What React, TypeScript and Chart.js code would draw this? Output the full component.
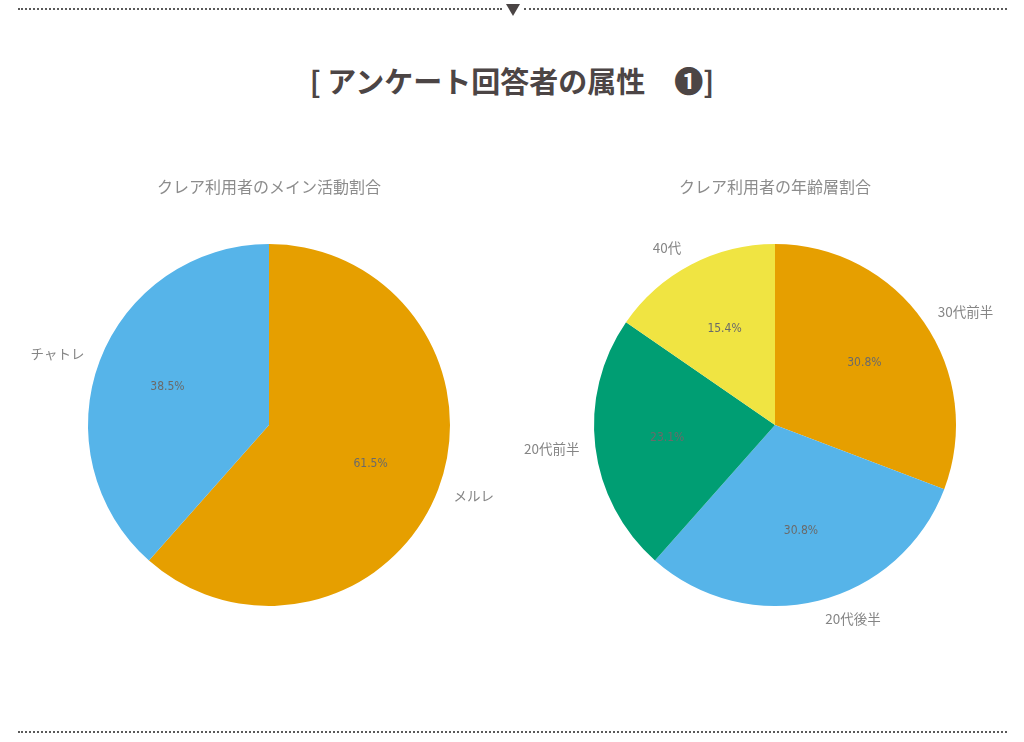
import React, { useEffect, useRef } from 'react';
import { Chart, registerables, Plugin } from 'chart.js';

Chart.register(...registerables);

// left pie: main activity
const activityLabels = ['メルレ', 'チャトレ'];
const activityValues = [8, 5];
const activityColors = ['#E69F00', '#56B4E9'];

// right pie: age groups
const ageLabels = ['30代前半', '20代後半', '20代前半', '40代'];
const ageValues = [4, 4, 3, 2];
const ageColors = ['#E69F00', '#56B4E9', '#009E73', '#F0E442'];

const JP_FONT = '"Noto Sans CJK JP", "Noto Sans", sans-serif';

// draws the percentage inside each slice and the category name outside it
const sliceLabels: Plugin<'pie'> = {
	id: 'sliceLabels',
	afterDatasetsDraw(chart) {
		const ctx = chart.ctx;
		const meta = chart.getDatasetMeta(0);
		const values = chart.data.datasets[0].data as number[];
		const total = values.reduce((a, b) => a + b, 0);
		const labels = chart.data.labels as string[];

		meta.data.forEach((arc, i) => {
			const { x, y, startAngle, endAngle, outerRadius } = arc.getProps(
				['x', 'y', 'startAngle', 'endAngle', 'outerRadius'], true
			) as any;
			const mid = (startAngle + endAngle) / 2;
			const cos = Math.cos(mid);
			const sin = Math.sin(mid);

			ctx.save();
			ctx.font = '12px "Liberation Sans Narrow", "DejaVu Sans Condensed", sans-serif';
			ctx.fillStyle = '#6a6a6a';
			ctx.textAlign = 'center';
			ctx.textBaseline = 'middle';
			const pct = ((values[i] / total) * 100).toFixed(1) + '%';
			ctx.fillText(pct, x + cos * outerRadius * 0.6, y + sin * outerRadius * 0.6);

			ctx.font = `13.5px ${JP_FONT}`;
			ctx.fillStyle = '#858585';
			const r = outerRadius + 12;
			const ax = x + cos * r;
			const ay = y + sin * r;
			ctx.textAlign = cos >= 0 ? 'left' : 'right';
			ctx.fillText(labels[i], ax + (cos >= 0 ? 4 : -4), ay + sin * 7);
			ctx.restore();
		});
	},
};

type PieProps = {
	title: string;
	labels: string[];
	values: number[];
	colors: string[];
	padLeft: number;
	padRight: number;
	left: number;
};

const Pie: React.FC<PieProps> = ({ title, labels, values, colors, padLeft, padRight, left }) => {
	const canvas = useRef<HTMLCanvasElement>(null!);

	useEffect(() => {
		const chart = new Chart(canvas.current, {
			type: 'pie',
			data: {
				labels,
				datasets: [{
					data: values,
					backgroundColor: colors,
					borderWidth: 0,
					hoverOffset: 0,
				}],
			},
			options: {
				responsive: false,
				animation: false,
				layout: {
					padding: { left: padLeft, right: padRight, top: 0, bottom: 24 },
				},
				plugins: {
					legend: { display: false },
					tooltip: { enabled: false },
					title: {
						display: true,
						text: title,
						color: '#8c8c8c',
						font: { family: JP_FONT, size: 16, weight: 'normal', lineHeight: 1.2 },
						padding: { top: 7, bottom: 47.8 },
					},
				},
			},
			plugins: [sliceLabels],
		});

		return () => {
			chart.destroy();
		};
	}, []);

	return <canvas
		ref={canvas}
		width={512}
		height={460}
		style={{ position: 'absolute', left, top: 170, width: 512, height: 460 }}
	/>;
};

const dotted: React.CSSProperties = {
	position: 'absolute',
	height: 0,
	borderTop: '2px dotted #5a5a5a',
};

export default function App() {
	return <div style={{
		position: 'absolute',
		left: 0,
		top: 0,
		width: 1024,
		height: 742,
		background: '#fff',
		overflow: 'hidden',
	}}>
		<div style={{ ...dotted, top: 8, left: 18, width: 484 }} />
		<div style={{
			position: 'absolute',
			left: 506,
			top: 4,
			width: 0,
			height: 0,
			borderLeft: '7px solid transparent',
			borderRight: '7px solid transparent',
			borderTop: '12px solid #4a4444',
		}} />
		<div style={{ ...dotted, top: 8, left: 524, width: 483 }} />

		<div style={{
			position: 'absolute',
			top: 60,
			left: 0,
			width: 1024,
			textAlign: 'center',
			font: `bold 29px/40px ${JP_FONT}`,
			color: '#4c4545',
			whiteSpace: 'pre',
		}}>[ アンケート回答者の属性　❶]</div>

		<Pie
			title='クレア利用者のメイン活動割合'
			labels={activityLabels}
			values={activityValues}
			colors={activityColors}
			padLeft={76}
			padRight={50}
			left={0}
		/>
		<Pie
			title='クレア利用者の年齢層割合'
			labels={ageLabels}
			values={ageValues}
			colors={ageColors}
			padLeft={64}
			padRight={50}
			left={512}
		/>

		<div style={{ ...dotted, top: 731, left: 18, width: 989 }} />
	</div>;
}
